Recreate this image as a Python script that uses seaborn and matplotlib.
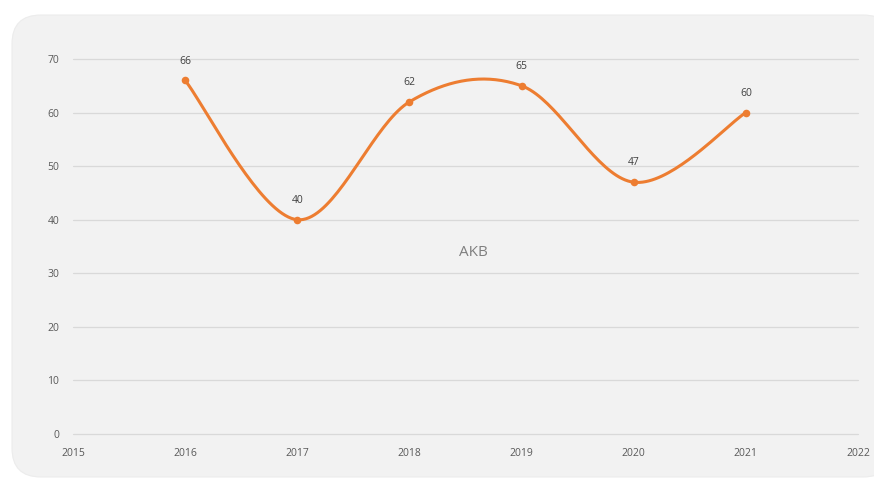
import numpy as np
import matplotlib
matplotlib.use("Agg")
import matplotlib.pyplot as plt
import seaborn as sns
from matplotlib.patches import FancyBboxPatch

years = [2016, 2017, 2018, 2019, 2020, 2021]
values = [66, 40, 62, 65, 47, 60]
series_label = "AKB"

sns.set_theme(style="white")
plt.rcParams['font.family'] = ['Open Sans', 'DejaVu Sans']

fig = plt.figure(figsize=(8.74, 4.78), dpi=100)
fig.patch.set_facecolor("white")

# rounded panel
panel = FancyBboxPatch((12 / 874, 1 / 478), 880 / 874, 462 / 478,
                       boxstyle="round,pad=0,rounding_size=0.033",
                       transform=fig.transFigure, facecolor="#f2f2f2",
                       edgecolor="#ececec", linewidth=0.8, zorder=-5,
                       mutation_aspect=874 / 478)
fig.patches.append(panel)

ax = fig.add_axes([73 / 874, 1 - 434 / 478, (858 - 73) / 874, (434 - 59) / 478])
ax.set_facecolor("none")
ax.set_zorder(2)

# Excel-like smooth line (Catmull-Rom via cubic Bezier)
x = np.array(years, dtype=float)
y = np.array(values, dtype=float)
P = np.column_stack([x, y])
curve = []
n = len(P)
t = np.linspace(0, 1, 40)
for i in range(n - 1):
    p0 = P[i - 1] if i > 0 else P[i]
    p1 = P[i]
    p2 = P[i + 1]
    p3 = P[i + 2] if i + 2 < n else P[i + 1]
    b1 = p1 + (p2 - p0) / 6
    b2 = p2 - (p3 - p1) / 6
    seg = ((1 - t) ** 3)[:, None] * p1 + (3 * (1 - t) ** 2 * t)[:, None] * b1 \
        + (3 * (1 - t) * t ** 2)[:, None] * b2 + (t ** 3)[:, None] * p2
    curve.append(seg)
curve = np.vstack(curve)

orange = "#ED7D31"
ax.plot(curve[:, 0], curve[:, 1], color=orange, lw=2.2, solid_capstyle="round", zorder=3)
sns.scatterplot(x=years, y=values, ax=ax, color=orange, s=30, edgecolor=orange,
                linewidth=0, zorder=4, legend=False)

for xi, yi in zip(years, values):
    ax.annotate(f"{yi}", (xi, yi), xytext=(0, 10), textcoords="offset points",
                ha="center", va="bottom", fontsize=7.5, color="#404040")

ax.text(2018.57, 33.8, series_label, ha="center", va="center", fontsize=11,
        color="#7f7f7f")

ax.set_xlim(2015, 2022)
ax.set_ylim(0, 70)
ax.set_xticks(range(2015, 2023))
ax.set_yticks(range(0, 71, 10))
ax.grid(axis="y", color="#d9d9d9", lw=0.9)
ax.grid(axis="x", visible=False)
for gl in ax.get_ygridlines():
    gl.set_clip_on(False)
for s in ax.spines.values():
    s.set_visible(False)
ax.tick_params(axis="both", length=0, labelsize=7.5, labelcolor="#595959")
ax.tick_params(axis="x", pad=10)
ax.tick_params(axis="y", pad=10)

fig.savefig("out.png", dpi=100)
